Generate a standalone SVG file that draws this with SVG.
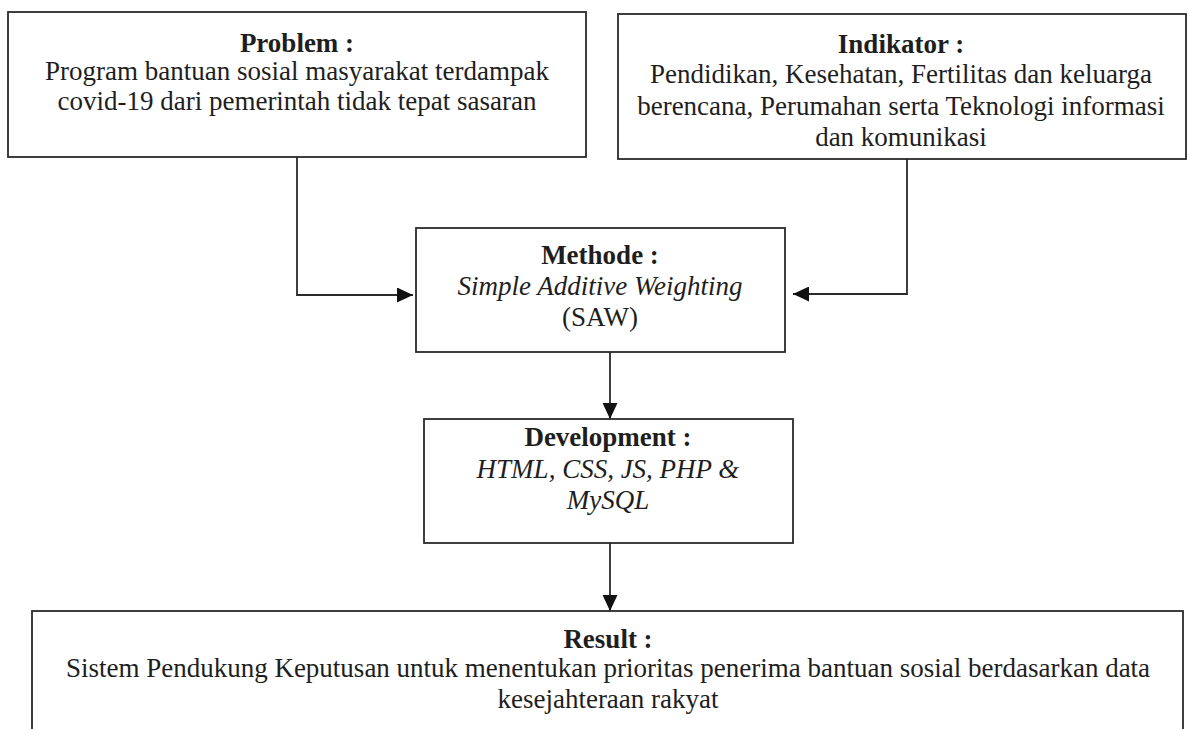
<svg xmlns="http://www.w3.org/2000/svg" width="1188" height="729" viewBox="0 0 1188 729">
  <style>
    .box { fill: #ffffff; stroke: #2a2a2a; stroke-width: 1.8; }
    .conn { fill: none; stroke: #2a2a2a; stroke-width: 1.8; }
    text { font-family: "Liberation Serif", "Times New Roman", serif; font-size: 27px; fill: #1e1e1e; text-anchor: middle; }
    .title { font-weight: bold; }
    .it { font-style: italic; }
  </style>
  <defs>
    <marker id="arrow" markerUnits="userSpaceOnUse" markerWidth="16" markerHeight="15" refX="16" refY="7.5" orient="auto">
      <path d="M0,0 L16,7.5 L0,15 z" fill="#111"/>
    </marker>
  </defs>
  <rect x="0" y="0" width="1188" height="729" fill="#ffffff"/>

  <g id="connectors">
    <path class="conn" d="M297,157 V295 H413" marker-end="url(#arrow)"/>
    <path class="conn" d="M907,159 V294 H793" marker-end="url(#arrow)"/>
    <path class="conn" d="M610,352 V419" marker-end="url(#arrow)"/>
    <path class="conn" d="M610,543 V611" marker-end="url(#arrow)"/>
  </g>

  <g id="problem">
    <rect class="box" x="8" y="12" width="578" height="145"/>
    <text class="title" x="297" y="52">Problem :</text>
    <text x="297" y="80">Program bantuan sosial masyarakat terdampak</text>
    <text x="297" y="110">covid-19 dari pemerintah tidak tepat sasaran</text>
  </g>

  <g id="indikator">
    <rect class="box" x="618" y="14" width="568" height="145"/>
    <text class="title" x="901" y="53">Indikator :</text>
    <text x="901" y="83">Pendidikan, Kesehatan, Fertilitas dan keluarga</text>
    <text x="901" y="115">berencana, Perumahan serta Teknologi informasi</text>
    <text x="901" y="146">dan komunikasi</text>
  </g>

  <g id="methode">
    <rect class="box" x="416" y="228" width="369" height="124"/>
    <text class="title" x="600" y="264">Methode :</text>
    <text class="it" x="600" y="295">Simple Additive Weighting</text>
    <text x="600" y="326">(SAW)</text>
  </g>

  <g id="development">
    <rect class="box" x="424" y="419" width="369" height="124"/>
    <text class="title" x="608" y="446">Development :</text>
    <text class="it" x="608" y="478">HTML, CSS, JS, PHP &amp;</text>
    <text class="it" x="608" y="509">MySQL</text>
  </g>

  <g id="result">
    <rect class="box" x="32" y="611" width="1151" height="130"/>
    <text class="title" x="608" y="648">Result :</text>
    <text x="608" y="677">Sistem Pendukung Keputusan untuk menentukan prioritas penerima bantuan sosial berdasarkan data</text>
    <text x="608" y="708">kesejahteraan rakyat</text>
  </g>
</svg>
